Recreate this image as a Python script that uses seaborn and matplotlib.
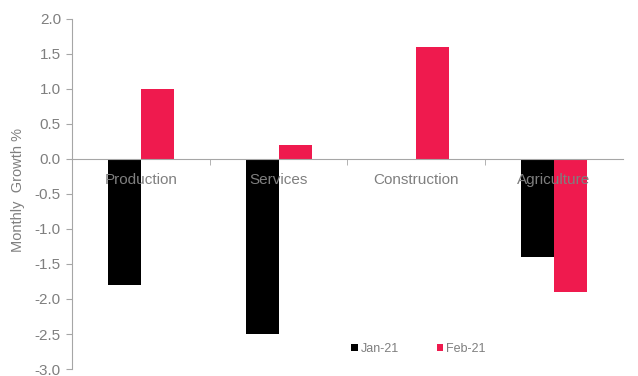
import matplotlib
matplotlib.use("Agg")
import matplotlib.pyplot as plt
import seaborn as sns
import pandas as pd

categories = ["Production", "Services", "Construction", "Agriculture"]
jan_21 = [-1.8, -2.5, 0.0, -1.4]
feb_21 = [1.0, 0.2, 1.6, -1.9]
series_names = ["Jan-21", "Feb-21"]
y_ticks = [-3.0, -2.5, -2.0, -1.5, -1.0, -0.5, 0.0, 0.5, 1.0, 1.5, 2.0]

df = pd.DataFrame({
    "Category": categories * 2,
    "Series": [series_names[0]] * 4 + [series_names[1]] * 4,
    "Value": jan_21 + feb_21,
})

sns.set_style("white")
plt.rcParams["font.family"] = ["Liberation Sans", "DejaVu Sans"]

grey = "#7f7f7f"
fig = plt.figure(figsize=(6.38, 3.76), dpi=100)
ax = fig.add_axes([0.113, 0.0186, 0.863, 0.931])

sns.barplot(data=df, x="Category", y="Value", hue="Series",
            palette=["#000000", "#EF1A4E"], width=0.48, saturation=1,
            linewidth=0, ax=ax, legend=True)

ax.set_axisbelow(False)
ax.set_ylim(-3.0, 2.0)
ax.set_xlim(-0.5, 3.5)
ax.set_yticks(y_ticks)
ax.set_yticklabels([f"{v:.1f}" for v in y_ticks], color=grey, fontsize=11)
ax.set_ylabel("Monthly  Growth %", color=grey, fontsize=10.5)
ax.yaxis.set_label_coords(-0.085, 0.511)
ax.set_xlabel("")

for s in ["top", "right"]:
    ax.spines[s].set_visible(False)
ax.spines["left"].set_color("#a6a6a6")
ax.spines["bottom"].set_color("#a6a6a6")
ax.spines["bottom"].set_position(("data", 0))

ax.tick_params(axis="y", which="major", direction="out", length=4, color="#a6a6a6", left=True, pad=4)
ax.set_xticks(range(len(categories)))
ax.set_xticklabels(categories, color=grey, fontsize=11)
ax.tick_params(axis="x", which="major", length=0, pad=10, bottom=True)
ax.set_xticks([0.5, 1.5, 2.5], minor=True)
ax.tick_params(axis="x", which="minor", direction="out", length=4, color="#a6a6a6", bottom=True)

handles, labels = ax.get_legend_handles_labels()
ax.legend(handles, labels, loc="center", bbox_to_anchor=(0.629, 0.057), ncol=2,
          frameon=False, fontsize=9, labelcolor=grey, handlelength=0.5,
          handleheight=0.5, handletextpad=0.25, columnspacing=3.0)

fig.savefig("out.png", dpi=100)
